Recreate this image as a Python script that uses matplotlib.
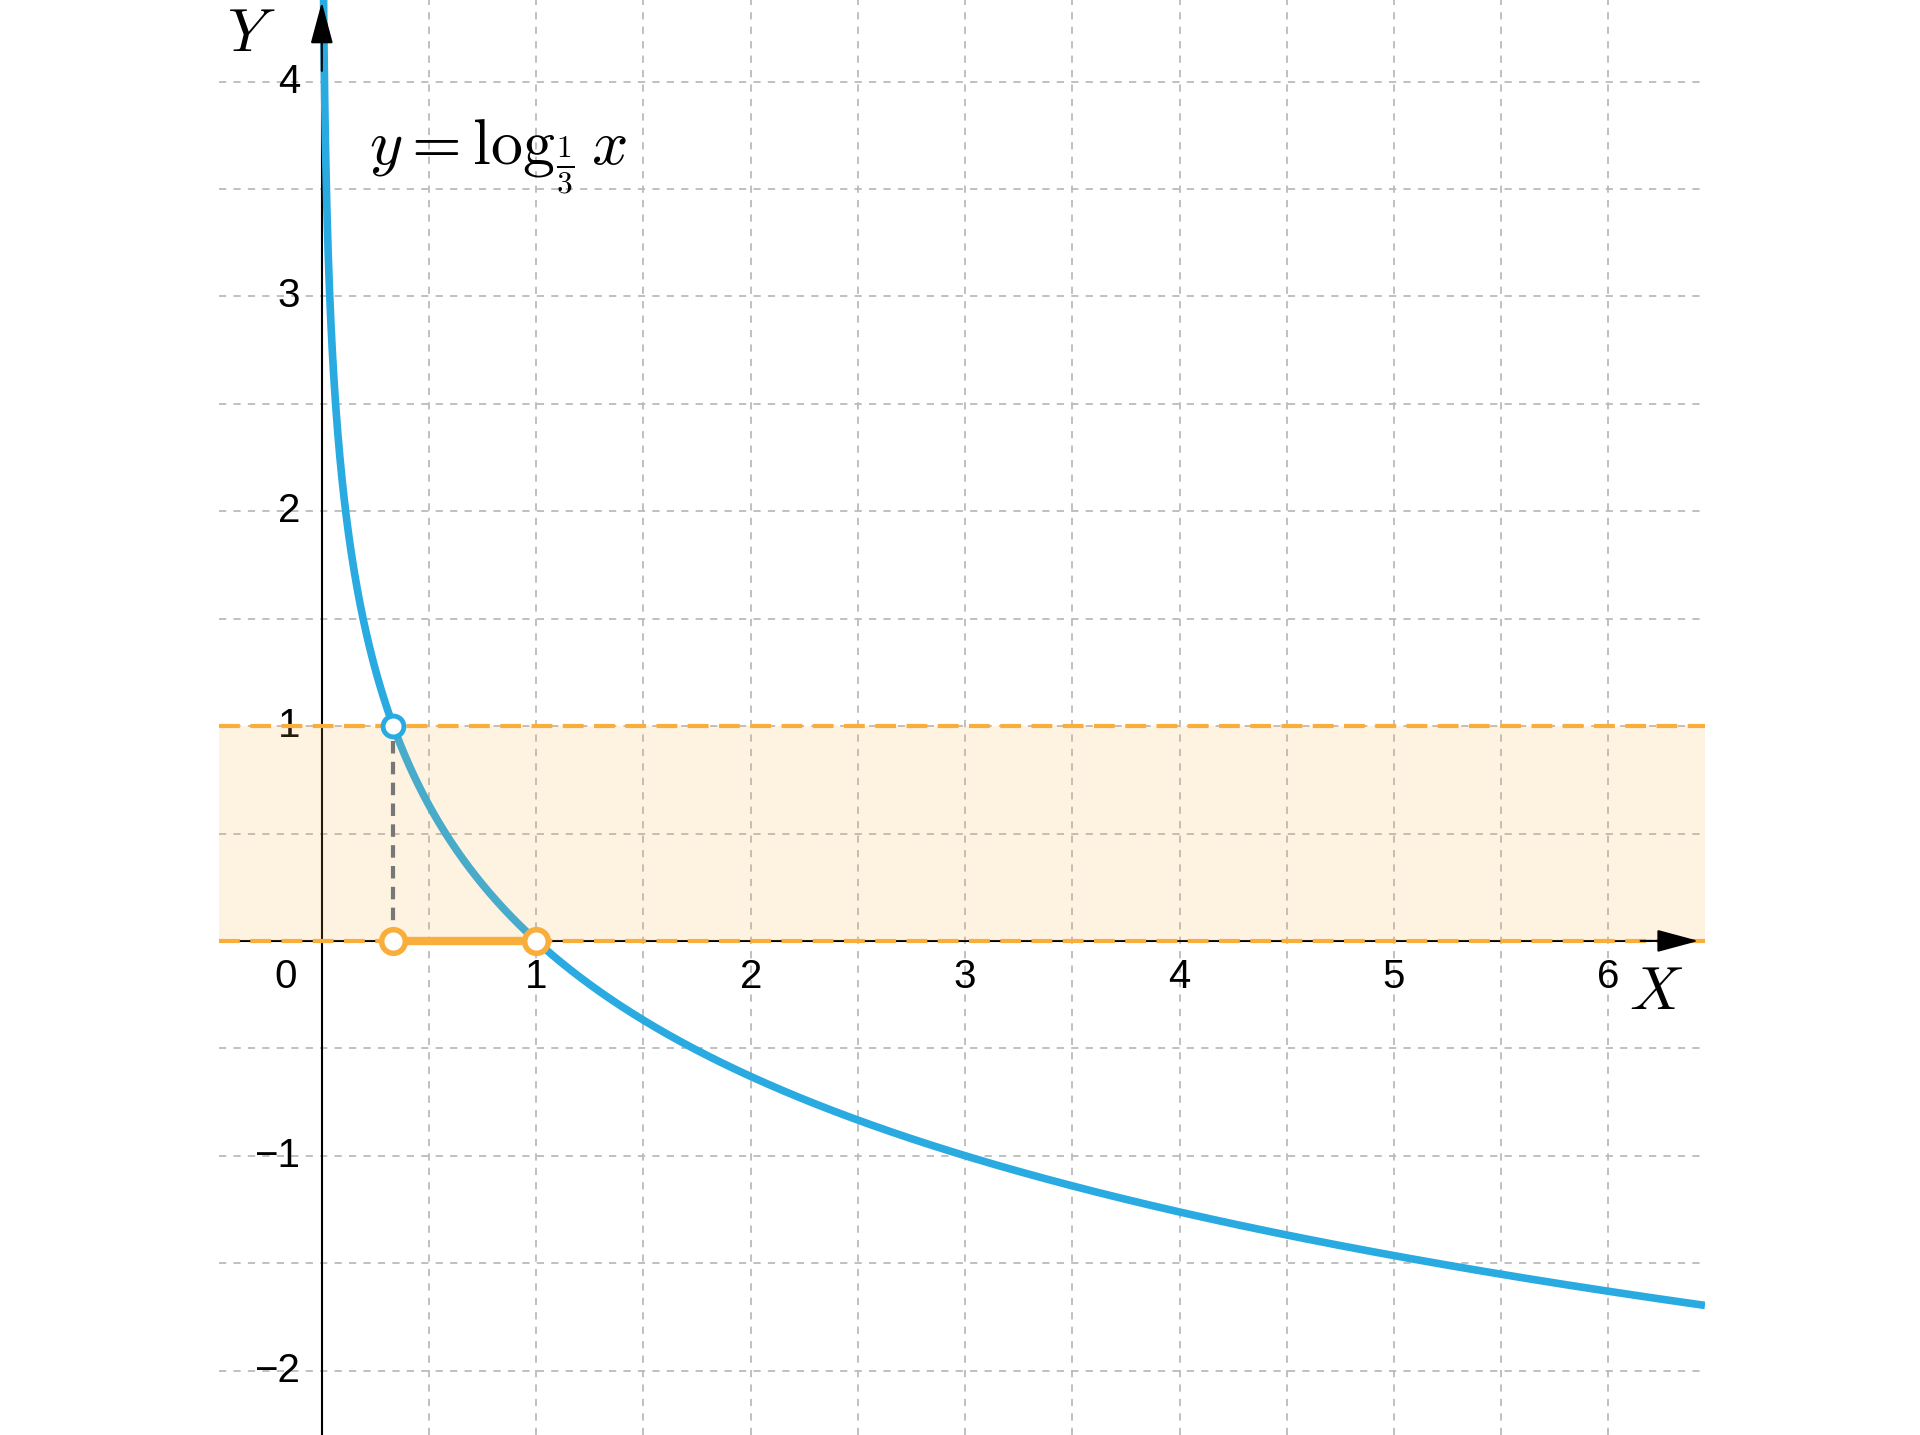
import numpy as np
import matplotlib

matplotlib.use("Agg")
import matplotlib.pyplot as plt

plt.rcParams["mathtext.fontset"] = "cm"

x_ticks = [1, 2, 3, 4, 5, 6]
y_ticks = [-2, -1, 1, 2, 3, 4]
band = (0, 1)
segment = (1 / 3, 1)
x_min, x_max = -0.48, 6.45
y_min, y_max = -2.3, 4.38

blue = "#29ABE2"
orange = "#F9AE3C"

fig = plt.figure(figsize=(19.2, 14.35), dpi=100)
ax = fig.add_axes([0.114, 0.0, 0.774, 1.0])
ax.set_xlim(x_min, x_max)
ax.set_ylim(y_min, y_max)
for s in ax.spines.values():
    s.set_visible(False)
ax.set_xticks([])
ax.set_yticks([])

# grid
for gx in np.arange(0.5, 6.5, 0.5):
    ax.axvline(gx, color="#bbbbbb", ls=(0, (4, 4)), lw=1.3, zorder=0)
for gy in np.arange(-2, 4.5, 0.5):
    if gy != 0:
        ax.axhline(gy, color="#bbbbbb", ls=(0, (4, 4)), lw=1.3, zorder=0)

# axes with arrow heads
ax.plot([x_min, 6.2], [0, 0], color="black", lw=1.5, zorder=2)
ax.plot([0, 0], [y_min, 4.2], color="black", lw=1.5, zorder=2)
ax.annotate("", xy=(6.42, 0), xytext=(6.15, 0),
            arrowprops=dict(arrowstyle="-|>,head_length=2.6,head_width=0.7",
                            color="black", lw=1.5, shrinkA=0, shrinkB=0), zorder=8)
ax.annotate("", xy=(0, 4.37), xytext=(0, 4.05),
            arrowprops=dict(arrowstyle="-|>,head_length=2.6,head_width=0.7",
                            color="black", lw=1.5, shrinkA=0, shrinkB=0), zorder=8)

# curve
xs = np.linspace(3 ** -4.5, x_max, 2000)
ax.plot(xs, -np.log(xs) / np.log(3), color=blue, lw=5.5, zorder=3, solid_capstyle="butt")

# band
ax.fill_between([x_min, x_max], band[0], band[1], color=orange, alpha=0.15, lw=0, zorder=4)
for yb in band:
    ax.axhline(yb, color=orange, ls=(0, (5, 2.5)), lw=3, zorder=5)

ax.plot([segment[0]] * 2, [0, 1], color="#777777", ls=(0, (3, 2)), lw=3, zorder=5)
ax.plot(segment, [0, 0], color=orange, lw=6, zorder=6)
ax.plot(segment, [0, 0], "o", ms=17, mfc="white", mec=orange, mew=4, zorder=7)
ax.plot([segment[0]], [1], "o", ms=15, mfc="white", mec=blue, mew=3.5, zorder=7)

tick_font = dict(family="Liberation Sans", fontsize=29)
for t in x_ticks:
    ax.text(t, -0.17, str(t), ha="center", va="center", **tick_font)
ax.text(-0.17, -0.17, "0", ha="center", va="center", **tick_font)
for t in y_ticks:
    lab = str(t).replace("-", "\u2212")
    ax.text(-0.1, t, lab, ha="right", va="center", **tick_font)

ax.text(-0.33, 4.22, r"$Y$", fontsize=44, ha="center", va="center")
ax.text(6.22, -0.24, r"$X$", fontsize=44, ha="center", va="center")
ax.text(0.22, 3.65, r"$y=\log_{\frac{1}{3}}x$", fontsize=46, ha="left", va="center")

fig.savefig("out.png", dpi=100)
